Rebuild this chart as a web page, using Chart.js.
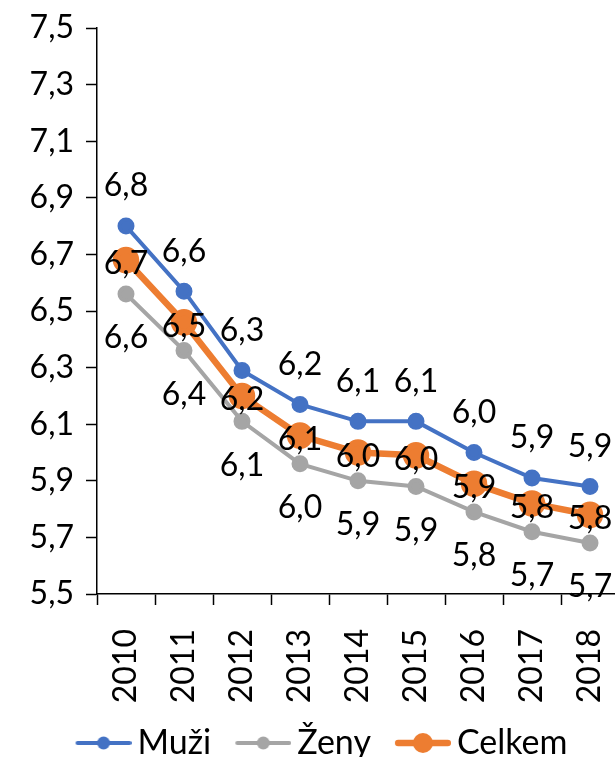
<!DOCTYPE html>
<html lang="cs">
<head>
    <meta charset="UTF-8">
    <title>Muži, Ženy, Celkem 2010–2018</title>
    <script src="https://cdn.jsdelivr.net/npm/chart.js"></script>
    <style>
        html, body {
            margin: 0;
            padding: 0;
            background: #ffffff;
            overflow: hidden;
        }

        #chart {
            display: block;
        }
    </style>
</head>
<body>
    <canvas id="chart" width="625" height="770"></canvas>

    <script>
        // values
        const years = ['2010', '2011', '2012', '2013', '2014', '2015', '2016', '2017', '2018'];
        const muzi = [6.80, 6.57, 6.29, 6.17, 6.11, 6.11, 6.00, 5.91, 5.88];
        const zeny = [6.56, 6.36, 6.11, 5.96, 5.90, 5.88, 5.79, 5.72, 5.68];
        const celkem = [6.68, 6.46, 6.20, 6.06, 6.00, 5.99, 5.89, 5.82, 5.78];
        const yMin = 5.5;
        const yMax = 7.5;
        const yStep = 0.2;

        const FONT = 'Lato, "Open Sans", sans-serif';
        const fmt = v => v.toFixed(1).replace('.', ',');

        // line + marker icon for the legend, drawn at the right end of a wider
        // transparent canvas so the items get Excel-like gaps between them
        function legendIcon(color, lineW, radius) {
            const c = document.createElement('canvas');
            c.width = 81;
            c.height = 22;
            const g = c.getContext('2d');
            const x0 = 81 - 56;
            g.strokeStyle = color;
            g.lineWidth = lineW;
            g.lineCap = 'round';
            g.beginPath();
            g.moveTo(x0 + lineW / 2, 11);
            g.lineTo(81 - lineW / 2, 11);
            g.stroke();
            g.fillStyle = color;
            g.beginPath();
            g.arc(x0 + 28, 11, radius, 0, Math.PI * 2);
            g.fill();
            return c;
        }

        // data labels: one decimal with comma, above / below / on the point
        const valueLabels = {
            id: 'valueLabels',
            afterDatasetsDraw(chart) {
                const ctx = chart.ctx;
                ctx.save();
                ctx.font = '32px ' + FONT;
                ctx.fillStyle = '#000000';
                ctx.textAlign = 'center';
                ctx.textBaseline = 'middle';
                chart.data.datasets.forEach((ds, i) => {
                    const meta = chart.getDatasetMeta(i);
                    meta.data.forEach((pt, j) => {
                        ctx.fillText(fmt(ds.data[j]), pt.x, pt.y + ds.labelShift);
                    });
                });
                ctx.restore();
            }
        };

        new Chart(document.getElementById('chart'), {
            type: 'line',
            data: {
                labels: years,
                datasets: [
                    {
                        label: 'Muži', data: muzi, order: 2,
                        borderColor: '#4472C4', backgroundColor: '#4472C4',
                        borderWidth: 4, pointRadius: 6.5, pointHoverRadius: 6.5,
                        labelShift: -40, icon: legendIcon('#4472C4', 4, 6.5)
                    },
                    {
                        label: 'Ženy', data: zeny, order: 1,
                        borderColor: '#A5A5A5', backgroundColor: '#A5A5A5',
                        borderWidth: 4, pointRadius: 6.5, pointHoverRadius: 6.5,
                        labelShift: 44, icon: legendIcon('#A5A5A5', 4, 6.5)
                    },
                    {
                        label: 'Celkem', data: celkem, order: 0,
                        borderColor: '#ED7D31', backgroundColor: '#ED7D31',
                        borderWidth: 6.5, pointRadius: 10, pointHoverRadius: 10,
                        labelShift: 4, icon: legendIcon('#ED7D31', 6.5, 10)
                    }
                ]
            },
            options: {
                responsive: false,
                animation: false,
                layout: {
                    autoPadding: false,
                    padding: { top: 28, right: 6, left: 10, bottom: 0 }
                },
                elements: {
                    line: { tension: 0 }
                },
                scales: {
                    x: {
                        offset: true,
                        grid: {
                            offset: true,
                            drawOnChartArea: false,
                            drawTicks: true,
                            tickLength: 11,
                            tickWidth: 1.5,
                            tickColor: '#000000'
                        },
                        border: { display: true, color: '#000000', width: 1.5 },
                        ticks: {
                            color: '#000000',
                            font: { family: FONT, size: 32 },
                            minRotation: 90,
                            maxRotation: 90,
                            padding: 24,
                            autoSkip: false
                        },
                        afterFit(scale) {
                            scale.height = 122;
                            scale.paddingLeft = 0;
                            scale.paddingRight = 0;
                        }
                    },
                    y: {
                        min: yMin,
                        max: yMax,
                        grid: {
                            drawOnChartArea: false,
                            drawTicks: true,
                            tickLength: 11,
                            tickWidth: 1.5,
                            tickColor: '#000000'
                        },
                        border: { display: true, color: '#000000', width: 1.5 },
                        ticks: {
                            stepSize: yStep,
                            color: '#000000',
                            font: { family: FONT, size: 32 },
                            padding: 12,
                            callback: v => fmt(v)
                        },
                        afterFit(scale) {
                            scale.width = 87;
                            scale.paddingTop = 0;
                            scale.paddingBottom = 0;
                        }
                    }
                },
                plugins: {
                    tooltip: { enabled: false },
                    legend: {
                        position: 'bottom',
                        labels: {
                            usePointStyle: true,
                            pointStyleWidth: 59,
                            padding: 10,
                            color: '#000000',
                            font: { family: FONT, size: 34 },
                            generateLabels(chart) {
                                return chart.data.datasets.map((ds, i) => ({
                                    text: ds.label,
                                    pointStyle: ds.icon,
                                    fillStyle: ds.borderColor,
                                    strokeStyle: ds.borderColor,
                                    lineWidth: 0,
                                    fontColor: '#000000',
                                    hidden: false,
                                    datasetIndex: i
                                }));
                            }
                        }
                    }
                }
            },
            plugins: [valueLabels]
        });
    </script>
</body>
</html>
